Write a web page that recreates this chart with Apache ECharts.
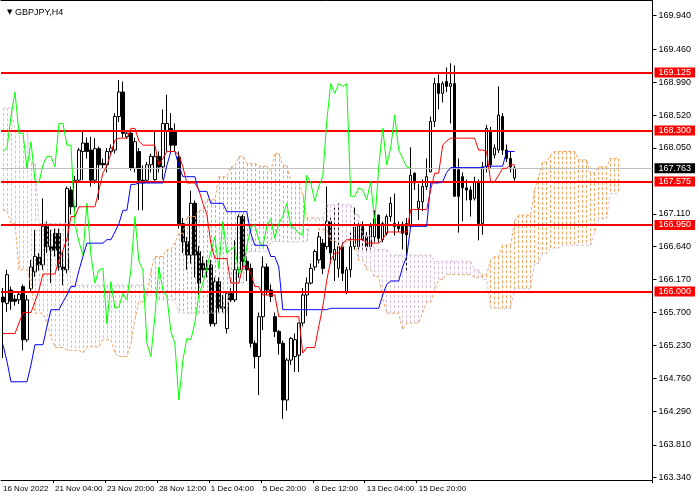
<!DOCTYPE html>
<html><head><meta charset="utf-8">
<script src="https://cdn.jsdelivr.net/npm/echarts@6/dist/echarts.min.js"></script>
<style>html,body{margin:0;padding:0;background:#fff}#c{width:700px;height:500px}</style>
</head><body><div id="c"></div>
<script>
// ---- Data (GBPJPY, H4) ----
const opens=[165.92,165.83,166.02,165.89,165.88,166.07,165.31,166.04,166.28,166.49,166.38,166.93,166.64,166.83,166.83,166.35,166.31,167.45,167.21,167.59,168.00,168.12,168.02,167.59,168.04,167.83,167.81,168.00,168.02,168.50,168.85,168.21,168.26,167.76,168.00,167.59,167.59,167.81,167.60,167.93,167.78,168.30,168.33,168.30,167.92,166.97,166.71,166.52,167.26,166.57,166.40,166.31,166.38,165.54,166.14,165.76,165.47,165.97,165.88,166.31,167.07,166.43,166.33,165.26,165.07,165.64,166.35,166.02,165.64,165.43,165.26,164.45,165.02,165.07,165.09,165.55,165.95,166.12,166.35,166.45,166.69,166.64,167.00,166.45,166.33,166.64,166.00,166.31,166.64,166.64,166.93,166.78,166.64,166.78,167.09,166.74,166.83,167.07,166.97,166.93,166.93,166.97,166.93,167.69,167.19,167.28,167.50,167.71,168.43,168.97,168.83,169.00,168.93,168.97,167.74,167.64,167.48,167.45,167.33,167.57,166.97,167.78,168.28,167.95,168.02,168.50,168.02,167.90,167.62];
const highs=[166.05,166.31,166.07,165.95,166.00,166.10,165.95,166.45,166.88,166.55,167.33,167.00,166.88,166.90,166.90,166.57,167.50,167.50,167.65,168.05,168.28,168.20,168.21,168.19,168.07,167.90,168.05,168.10,168.55,169.02,169.00,168.30,168.30,168.20,168.05,167.80,167.85,167.97,168.28,168.00,168.60,168.81,168.55,168.40,168.00,167.05,166.78,167.44,167.30,166.65,166.50,166.45,166.45,166.20,166.20,165.95,165.97,166.05,166.73,167.10,167.10,166.50,166.40,165.30,165.70,166.50,166.40,166.10,165.70,165.45,165.30,165.05,165.35,165.40,165.55,166.05,166.20,166.40,166.60,166.85,166.75,167.50,167.05,167.20,167.26,166.70,166.35,166.85,167.20,166.98,167.00,166.85,166.98,167.16,167.10,167.00,167.10,167.35,167.40,167.00,167.00,167.05,168.06,167.70,167.54,167.60,167.90,168.50,169.05,169.10,169.00,169.20,169.26,169.23,167.90,167.70,167.60,167.50,167.64,167.60,167.85,168.38,168.35,168.10,168.93,168.55,168.10,168.00,167.80];
const lows=[165.05,165.71,165.74,165.80,165.82,165.16,165.28,166.00,166.21,166.30,166.31,166.55,166.12,166.50,166.30,166.09,166.26,167.10,167.15,167.55,167.59,167.90,167.50,167.54,167.31,167.75,167.70,167.95,167.97,168.42,168.20,168.18,167.73,167.70,167.16,167.16,167.55,167.70,167.55,167.70,167.60,168.00,168.00,168.00,166.90,166.55,166.31,166.40,166.20,165.95,166.20,166.20,165.50,165.50,165.70,165.70,165.40,165.85,165.85,166.20,166.30,166.15,165.20,164.90,164.52,165.45,165.95,165.85,165.35,165.10,164.18,164.30,164.95,164.85,164.85,165.50,165.65,166.10,166.30,166.40,166.25,166.60,166.40,166.15,166.20,166.15,165.96,166.20,166.60,166.60,166.60,166.55,166.60,166.70,166.70,166.70,166.80,167.00,166.80,166.85,166.60,166.28,166.90,167.45,167.02,167.15,167.45,167.70,168.35,168.60,168.70,168.85,168.40,167.36,166.84,167.00,167.30,167.07,167.30,166.73,166.81,167.70,167.75,167.90,167.98,167.95,167.85,167.70,167.58];
const closes=[165.85,166.24,165.86,165.86,165.96,165.31,165.88,166.35,166.50,166.38,166.93,166.64,166.59,166.59,166.35,166.31,167.47,167.21,167.59,168.02,168.12,168.00,167.59,168.04,167.81,167.81,168.00,168.05,168.50,168.85,168.26,168.26,167.76,168.14,167.59,167.55,167.81,167.93,167.93,167.78,168.40,168.40,168.09,168.09,166.97,166.71,166.52,167.26,166.52,166.12,166.31,166.33,165.54,166.14,165.76,165.78,165.97,165.88,166.31,167.07,166.43,166.31,165.26,165.07,165.64,166.35,166.02,165.93,165.43,165.26,164.45,165.02,165.33,165.31,165.55,165.95,166.12,166.33,166.57,166.78,166.33,167.00,166.55,166.60,166.64,166.26,166.31,166.64,166.92,166.95,166.74,166.64,166.93,167.04,166.76,166.97,167.07,167.26,166.93,166.90,166.83,166.81,167.66,167.55,167.29,167.50,167.64,168.43,168.97,168.83,168.97,168.93,168.97,167.36,167.36,167.48,167.45,167.31,167.57,166.97,167.78,168.33,167.81,168.05,168.52,168.02,167.90,167.78,167.763];
const tenkan=[165.40,165.40,165.40,165.40,165.55,165.70,165.70,165.70,165.85,166.02,166.25,166.25,166.25,166.25,166.45,166.59,166.75,167.07,167.07,167.21,167.21,167.21,167.21,167.21,167.45,167.69,167.80,167.97,168.16,168.19,168.19,168.19,168.33,168.33,168.15,168.09,168.09,168.09,168.09,167.81,167.90,168.00,168.00,168.00,167.95,167.78,167.55,167.55,167.55,167.45,167.26,167.10,166.69,166.47,166.47,166.47,166.47,166.12,166.12,166.12,166.36,166.36,166.26,166.07,166.07,165.95,165.95,165.95,165.95,165.64,165.64,165.64,165.64,165.64,165.64,165.12,165.20,165.20,165.20,165.50,165.78,166.16,166.45,166.55,166.55,166.69,166.74,166.74,166.74,166.74,166.74,166.69,166.69,166.69,166.69,166.74,166.85,166.85,166.85,166.85,166.85,166.85,167.17,167.17,167.17,167.17,167.17,167.45,167.69,167.69,168.09,168.15,168.19,168.19,168.19,168.19,168.19,168.19,168.19,168.02,168.02,168.00,167.57,167.57,167.66,167.76,167.76,167.81,167.81];
const kijun=[165.24,165.00,164.71,164.71,164.71,164.71,164.71,164.95,165.24,165.24,165.24,165.50,165.74,165.74,165.74,165.85,165.95,166.07,166.07,166.30,166.50,166.69,166.69,166.69,166.69,166.69,166.74,166.74,166.85,166.97,167.16,167.16,167.53,167.53,167.55,167.55,167.55,167.55,167.55,167.55,167.55,167.80,168.00,168.00,167.80,167.64,167.64,167.64,167.64,167.43,167.43,167.43,167.26,167.26,167.26,167.26,167.14,167.14,167.14,167.14,167.14,167.14,166.83,166.66,166.66,166.66,166.66,166.50,166.50,166.35,165.74,165.74,165.74,165.74,165.74,165.74,165.74,165.74,165.74,165.74,165.74,165.74,165.76,165.76,165.76,165.76,165.76,165.76,165.76,165.76,165.76,165.76,165.76,165.76,165.76,165.95,166.10,166.15,166.15,166.15,166.35,166.50,166.93,166.93,166.93,166.93,166.93,167.55,167.55,167.55,167.57,167.70,167.77,167.77,167.77,167.77,167.77,167.77,167.77,167.77,167.77,167.79,167.79,167.79,167.79,167.79,168.00,168.00,168.00];
const senkouA=[167.16,167.16,166.97,166.97,166.31,166.31,166.31,166.12,165.69,165.69,165.69,165.55,165.35,165.20,165.20,165.20,165.16,165.16,165.16,165.16,165.12,165.21,165.21,165.21,165.21,165.31,165.31,165.31,165.12,165.07,165.07,165.07,165.26,165.60,165.85,165.85,165.93,166.31,166.50,166.50,166.50,166.60,166.60,166.70,166.83,166.83,167.07,167.07,167.07,167.16,167.16,167.31,167.31,167.31,167.64,167.64,167.64,167.78,167.78,167.93,167.93,167.83,167.83,167.83,167.79,167.79,167.79,167.71,167.97,167.97,167.80,167.80,167.57,167.57,167.57,167.38,167.05,167.05,167.05,166.88,166.88,166.88,166.73,166.73,166.64,166.64,166.73,166.73,166.73,166.45,166.45,166.31,166.31,166.21,166.21,165.90,165.69,165.69,165.69,165.69,165.45,165.55,165.55,165.55,165.55,165.70,165.85,165.85,166.02,166.17,166.17,166.24,166.24,166.24,166.24,166.24,166.24,166.24,166.20,166.20,166.24,166.24,166.45,166.50,166.50,166.66,166.66,166.66,167.00,167.09,167.09,167.09,167.09,167.45,167.64,167.85,167.85,167.95,168.00,168.00,168.00,168.00,168.00,168.00,167.88,167.88,167.88,167.69,167.69,167.78,167.78,167.78,167.90,167.90,167.90];
const senkouB=[168.62,168.62,168.62,168.30,168.30,168.30,168.30,167.83,167.83,166.97,166.97,166.97,166.97,166.97,166.97,166.97,166.97,166.09,166.09,166.09,166.09,166.09,166.09,166.09,166.09,166.09,166.09,166.09,166.09,166.09,166.09,166.09,166.09,166.09,166.09,166.09,165.95,165.95,165.95,165.88,165.88,165.88,165.88,165.88,165.69,165.69,165.69,165.69,165.69,165.69,165.69,165.69,165.69,165.69,165.69,165.69,165.69,166.12,166.12,166.12,166.12,166.57,166.57,166.57,166.57,166.57,166.57,166.71,166.71,166.71,166.71,166.71,166.71,166.71,166.71,166.71,166.71,167.05,167.05,167.05,167.05,167.24,167.24,167.24,167.24,167.24,167.24,167.24,167.10,167.10,166.80,166.80,166.80,166.60,166.60,166.60,166.60,166.52,166.52,166.52,166.52,166.52,166.52,166.52,166.52,166.52,166.52,166.52,166.43,166.43,166.43,166.43,166.43,166.43,166.43,166.43,166.43,166.43,166.31,166.31,166.17,166.17,165.76,165.76,165.76,165.76,165.76,165.76,166.04,166.04,166.04,166.04,166.04,166.40,166.40,166.54,166.54,166.62,166.62,166.62,166.66,166.66,166.66,166.66,166.66,166.66,166.66,166.66,166.83,167.04,167.04,167.04,167.40,167.40,167.40];
const chikouShift = 26;
const levels=[169.125,168.300,167.575,166.950,166.000];
const bidPrice=167.763;
const yTicks=[163.340,163.810,164.290,164.760,165.230,165.700,166.170,166.640,167.110,168.050,168.520,168.990,169.460,169.940];
const timeLabels=['16 Nov 2022','21 Nov 04:00','23 Nov 20:00','28 Nov 12:00','1 Dec 04:00','5 Dec 20:00','8 Dec 12:00','13 Dec 04:00','15 Dec 20:00'];
const timeLabelBars=[0,13,26,39,52,65,78,91,104];
const slotCount=163;

// ---- Build ----
const FONT='Liberation Sans';
const SANDY='#F4A460', THISTLE='#D8BFD8';
const cats=Array.from({length:slotCount},(_,i)=>String(i));
const candleData=opens.map((o,i)=>[o,closes[i],lows[i],highs[i]]);
const chikou=closes.slice(chikouShift);
const cloudLines=senkouA.map((a,i)=>({
  coords:[[i,Math.max(a,senkouB[i])],[i,Math.min(a,senkouB[i])]],
  lineStyle:{color:(a>=senkouB[i])?SANDY:THISTLE}
}));

const chart=echarts.init(document.getElementById('c'),null,{renderer:'canvas'});
const levelLines=levels.map(v=>({yAxis:v,name:v.toFixed(3),lineStyle:{color:'#ff0000',width:2,type:'solid'},
  label:{backgroundColor:'#ff0000',color:'#ffffff'}}));
levelLines.push({yAxis:bidPrice,name:bidPrice.toFixed(3),lineStyle:{color:'#c0c0c0',width:1,type:'solid'},
  label:{backgroundColor:'#000000',color:'#ffffff'}});

chart.setOption({
  animation:false,
  backgroundColor:'#ffffff',
  title:{text:'{a|▼} GBPJPY,H4',left:2,top:3,
    textStyle:{fontSize:9,fontWeight:'normal',color:'#000',fontFamily:FONT,
      rich:{a:{fontSize:7,fontFamily:'DejaVu Sans',color:'#000'}}}},
  grid:{left:0.5,right:47.5,top:0,bottom:20,containLabel:false},
  xAxis:[{type:'category',data:cats,boundaryGap:true,
    axisLine:{show:true,lineStyle:{color:'#000',width:1}},
    axisTick:{show:true,length:3,alignWithLabel:false,lineStyle:{color:'#000'},
      interval:(i)=>i>0&&timeLabelBars.includes(i)},
    axisLabel:{show:true,interval:(i)=>timeLabelBars.includes(i),hideOverlap:false,
      formatter:(v)=>{const j=timeLabelBars.indexOf(Number(v));return j>=0?timeLabels[j]:'';},
      align:'left',fontSize:8,color:'#000',fontFamily:FONT,margin:5},
    splitLine:{show:false}},
   {type:'category',data:cats,position:'top',boundaryGap:true,
    axisLine:{show:true,lineStyle:{color:'#000',width:1}},
    axisTick:{show:false},axisLabel:{show:false},splitLine:{show:false}}],
  yAxis:{type:'value',position:'right',min:163.307,max:170.164,scale:true,
    axisLine:{show:true,lineStyle:{color:'#000',width:1}},
    axisTick:{show:true,length:4,lineStyle:{color:'#000'},customValues:yTicks},
    axisLabel:{show:true,customValues:yTicks,formatter:v=>v.toFixed(3),fontSize:9,
      color:'#000',fontFamily:FONT,margin:6},
    splitLine:{show:false}},
  series:[
    {type:'candlestick',name:'GBPJPY',data:candleData,barWidth:3,z:2,
      itemStyle:{color:'#ffffff',color0:'#000000',borderColor:'#000000',borderColor0:'#000000',borderWidth:1}},
    {type:'lines',name:'cloud',coordinateSystem:'cartesian2d',data:cloudLines,z:3,silent:true,
      polyline:false,symbol:['none','none'],effect:{show:false},
      lineStyle:{width:1,type:[3,2],opacity:1,curveness:0}},
    {type:'line',name:'Senkou A',data:senkouA,showSymbol:false,symbol:'none',z:4,
      lineStyle:{color:SANDY,width:1,type:[3,2]}},
    {type:'line',name:'Senkou B',data:senkouB,showSymbol:false,symbol:'none',z:4,
      lineStyle:{color:THISTLE,width:1,type:[3,2]}},
    {type:'line',name:'Chikou',data:chikou,showSymbol:false,symbol:'none',z:5,
      lineStyle:{color:'#00FF00',width:1}},
    {type:'line',name:'Kijun',data:kijun,showSymbol:false,symbol:'none',z:5,
      lineStyle:{color:'#0000FF',width:1}},
    {type:'line',name:'Tenkan',data:tenkan,showSymbol:false,symbol:'none',z:5,
      lineStyle:{color:'#FF0000',width:1}},
    {type:'line',name:'levels',data:[],z:6,
      markLine:{silent:true,symbol:['none','none'],animation:false,
        label:{show:true,position:'end',distance:2,formatter:'{b}',
          fontSize:9,fontFamily:FONT,padding:[1,4,0,4],lineHeight:9},
        data:levelLines}}
  ]
});
</script></body></html>
